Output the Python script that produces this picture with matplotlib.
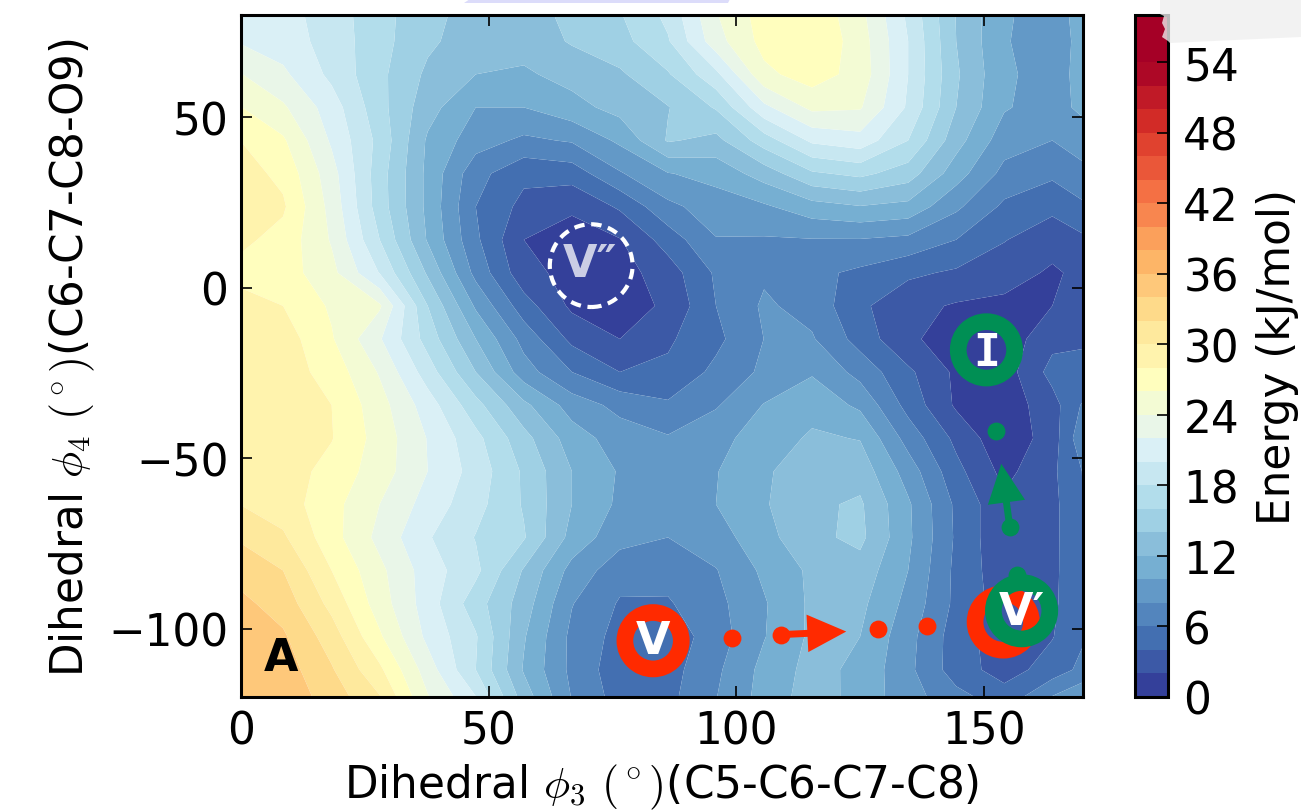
#!/usr/bin/env python
# coding: utf-8

import numpy as np
import matplotlib
matplotlib.use('Agg')
import matplotlib.pyplot as plt
from matplotlib.patches import Polygon

plt.rcParams['mathtext.fontset'] = 'cm'
plt.rcParams['font.size'] = 31.5

phi3 = [-1.2, 8.5, 18.3, 28.0, 37.7, 47.4, 57.1, 66.8, 76.5, 86.2, 95.9,
        105.6, 115.3, 125.0, 134.7, 144.4, 154.1, 163.8, 173.5]
phi4 = [-121.7, -112.0, -102.3, -92.6, -82.9, -73.2, -63.5, -53.8, -44.1, -34.4, -24.7,
        -15.0, -5.3, 4.4, 14.1, 23.8, 33.5, 43.2, 52.9, 62.6, 72.3, 82.0]

# kJ/mol, one row per phi4 value, bottom row first
energy = [
    [35.8, 35.5, 33.2, 30.5, 24.4, 20.5, 13.4, 8.0, 5.2, 5.5, 8.0, 10.8, 13.0, 11.3, 8.8, 7.0, 5.3, 8.8, 11.0],
    [35.5, 35.0, 32.2, 28.4, 23.0, 18.0, 11.8, 7.5, 4.8, 5.2, 7.6, 10.6, 12.7, 11.5, 8.5, 5.0, 3.1, 4.9, 7.5],
    [35.2, 34.3, 31.0, 26.3, 21.5, 18.2, 12.2, 7.5, 5.3, 4.8, 7.0, 9.9, 12.4, 12.0, 8.7, 5.0, 2.8, 3.9, 6.8],
    [34.7, 33.1, 29.4, 25.0, 21.0, 16.9, 13.0, 8.1, 5.8, 5.8, 7.4, 9.8, 12.4, 12.5, 9.4, 5.5, 3.0, 3.6, 6.8],
    [33.4, 32.0, 28.0, 24.5, 21.0, 18.5, 13.8, 9.3, 6.8, 6.7, 7.9, 10.4, 12.4, 13.2, 10.0, 5.5, 2.7, 3.5, 7.0],
    [31.9, 30.3, 26.8, 23.4, 20.2, 17.9, 16.2, 11.3, 8.7, 8.0, 9.1, 11.3, 13.5, 14.5, 10.4, 5.7, 2.3, 3.4, 7.5],
    [30.1, 29.0, 26.7, 24.0, 21.2, 18.7, 15.8, 12.0, 9.6, 8.9, 10.0, 11.8, 13.6, 14.3, 10.3, 5.6, 2.4, 3.4, 7.5],
    [29.6, 29.0, 27.3, 25.0, 22.0, 19.2, 15.7, 12.0, 9.8, 9.0, 9.9, 11.7, 13.2, 13.2, 9.1, 4.6, 1.4, 3.6, 7.5],
    [29.4, 29.0, 28.1, 25.2, 21.9, 18.6, 14.7, 11.0, 9.0, 8.2, 9.4, 10.9, 12.3, 11.9, 7.2, 3.5, 0.5, 3.0, 10.0],
    [29.3, 29.0, 28.0, 24.8, 21.0, 16.7, 12.5, 9.1, 7.4, 6.3, 7.8, 10.1, 11.3, 9.6, 5.3, 1.7, 0.8, 3.2, 8.0],
    [29.2, 29.0, 27.2, 23.8, 19.0, 14.0, 8.9, 6.0, 4.0, 4.4, 6.5, 8.4, 9.8, 7.3, 4.4, 1.6, 1.0, 4.7, 5.5],
    [29.5, 29.0, 26.2, 22.2, 17.2, 12.0, 7.3, 3.5, 2.0, 3.7, 5.5, 8.02, 8.2, 5.2, 2.3, 1.2, 0.8, 3.4, 3.6],
    [28.8, 28.0, 25.7, 24.3, 16.0, 9.7, 4.9, 1.6, 1.2, 2.3, 6.0, 8.3, 7.3, 4.4, 2.6, 1.8, 1.5, 2.0, 2.8],
    [27.5, 27.0, 24.6, 19.9, 13.7, 7.4, 2.7, 1.3, 1.2, 3.0, 6.3, 7.7, 6.5, 5.6, 4.4, 3.7, 2.9, 1.7, 3.0],
    [28.6, 27.3, 23.8, 18.0, 11.8, 6.4, 2.0, 1.2, 1.9, 4.9, 7.9, 7.8, 7.9, 7.9, 7.5, 6.0, 4.1, 2.8, 4.2],
    [29.5, 28.3, 23.3, 17.0, 11.5, 6.0, 3.4, 2.3, 4.3, 7.5, 9.0, 9.7, 11.2, 11.9, 11.4, 8.4, 5.6, 4.5, 6.3],
    [29.0, 27.5, 22.8, 16.9, 11.5, 6.7, 4.5, 4.9, 7.8, 9.9, 10.7, 12.9, 15.7, 16.5, 15.0, 10.9, 7.4, 6.4, 8.0],
    [28.2, 26.3, 21.7, 17.4, 11.7, 8.9, 7.6, 8.2, 10.4, 14.2, 13.4, 17.0, 20.4, 21.2, 18.0, 12.8, 8.9, 8.0, 9.6],
    [26.3, 24.3, 21.0, 16.7, 12.8, 10.0, 10.0, 11.3, 12.7, 13.9, 16.2, 21.5, 24.5, 24.2, 19.7, 14.0, 10.2, 9.0, 11.5],
    [24.3, 22.4, 19.5, 16.5, 13.6, 12.0, 11.7, 12.7, 13.7, 15.8, 19.5, 25.5, 27.0, 25.2, 20.0, 14.3, 10.4, 9.0, 11.8],
    [22.0, 21.0, 19.2, 16.7, 14.4, 12.9, 12.8, 14.2, 15.3, 17.8, 23.2, 26.7, 27.8, 25.0, 20.0, 14.0, 10.2, 8.7, 12.0],
    [21.0, 20.7, 19.0, 16.7, 14.7, 13.2, 13.2, 14.6, 16.0, 18.7, 24.0, 27.0, 27.5, 24.5, 19.5, 13.9, 10.3, 9.0, 12.0],
]

levels = list(range(0, 60, 2))
cbar_ticks = list(range(0, 60, 6))

red_path_x = [99.2, 109.1, 128.7, 138.6]
red_path_y = [-102.6, -101.7, -100.2, -99.3]
green_path_x = [152.5, 155.2, 156.6]
green_path_y = [-42.0, -70.0, -84.3]

RED = '#ff2a00'
GREEN = '#008f54'

W, H = 1301, 812
fig = plt.figure(figsize=(W / 100, H / 100), dpi=100)
ax = fig.add_axes([241 / W, (H - 698) / H, (1083 - 241) / W, (698 - 16) / H])

cf = ax.contourf(phi3, phi4, np.array(energy), levels=levels, cmap='RdYlBu_r',
                 vmin=0, vmax=54, antialiased=True)

ax.set_xlim(0, 170)
ax.set_ylim(-120, 80)
ax.set_xticks([0, 50, 100, 150])
ax.set_yticks([-100, -50, 0, 50])
ax.tick_params(direction='in', length=8, width=1.2, top=True, right=True, pad=9, labelsize=31.5)
for s in ax.spines.values():
    s.set_linewidth(2.2)
ax.set_xlabel(r'Dihedral $\phi_3$ $(^\circ)$(C5-C6-C7-C8)', fontsize=31.5, labelpad=7)
ax.set_ylabel(r'Dihedral $\phi_4$ $(^\circ)$(C6-C7-C8-O9)', fontsize=31.5, labelpad=8)

# paths and rings
ax.scatter(red_path_x, red_path_y, s=165, c=RED, linewidths=0, zorder=3)
ax.annotate('', xy=(122.2, -100.8), xytext=(109.1, -101.7),
            arrowprops=dict(facecolor=RED, edgecolor='none', width=5, headwidth=27,
                            headlength=28, shrink=0), zorder=3)
ax.scatter([83.2, 153.9], [-103.5, -98.0], s=1650, facecolors='none', edgecolors=RED,
           linewidths=12, zorder=4)

ax.scatter(green_path_x, green_path_y, s=165, c=GREEN, linewidths=0, zorder=5)
ax.annotate('', xy=(153.5, -51.6), xytext=(155.2, -70.0),
            arrowprops=dict(facecolor=GREEN, edgecolor='none', width=5, headwidth=27,
                            headlength=28, shrink=0), zorder=5)
ax.scatter([150.5, 157.6], [-18.2, -94.7], s=1650, facecolors='none', edgecolors=GREEN,
           linewidths=12, zorder=6)

ax.scatter([70.7], [6.5], s=3550, facecolors='none', edgecolors='white',
           linewidths=3, linestyles=(0, (2.5, 1.6)), zorder=4)

ax.text(83.2, -103.5, 'V', color='white', fontsize=32, fontweight='bold',
        ha='center', va='center', zorder=7)
ax.text(157.6, -95.0, 'V\u2032', color='white', fontsize=32, fontweight='bold',
        ha='center', va='center', zorder=7)
ax.text(70.5, 7.0, 'V\u2033', color='white', alpha=0.75, fontsize=32, fontweight='bold',
        ha='center', va='center', zorder=7)
ax.text(150.5, -19.0, 'I', color='white', fontsize=32, fontweight='bold',
        family='DejaVu Sans Mono', ha='center', va='center', zorder=7)
ax.text(8, -108.5, 'A', color='black', fontsize=32, fontweight='bold',
        ha='center', va='center', zorder=7)

cax = fig.add_axes([1135 / W, (H - 698) / H, (1168 - 1135) / W, (698 - 16) / H])
cbar = fig.colorbar(cf, cax=cax, ticks=cbar_ticks)
cbar.ax.tick_params(direction='in', length=8, width=1.2, pad=11, labelsize=31.5)
cbar.outline.set_linewidth(2.2)
cbar.set_label('Energy (kJ/mol)', fontsize=31.5, labelpad=12)

# scraps left at the edges of the source picture
fig.add_artist(Polygon([(470 / W, 1), (730 / W, 1), (728 / W, 1 - 4 / H), (464 / W, 1 - 4 / H)],
                       transform=fig.transFigure, facecolor='#dcdcfa', edgecolor='none'))
scrap = [(1160, 0), (1301, 0), (1301, 38), (1170, 44), (1168, 42), (1162, 38),
         (1165, 30), (1162, 24), (1164, 17), (1160, 15)]
fig.add_artist(Polygon([(px / W, 1 - py / H) for px, py in scrap],
                       transform=fig.transFigure, facecolor='#efefef', edgecolor='none', alpha=0.78))

fig.savefig('out.png', dpi=100)
